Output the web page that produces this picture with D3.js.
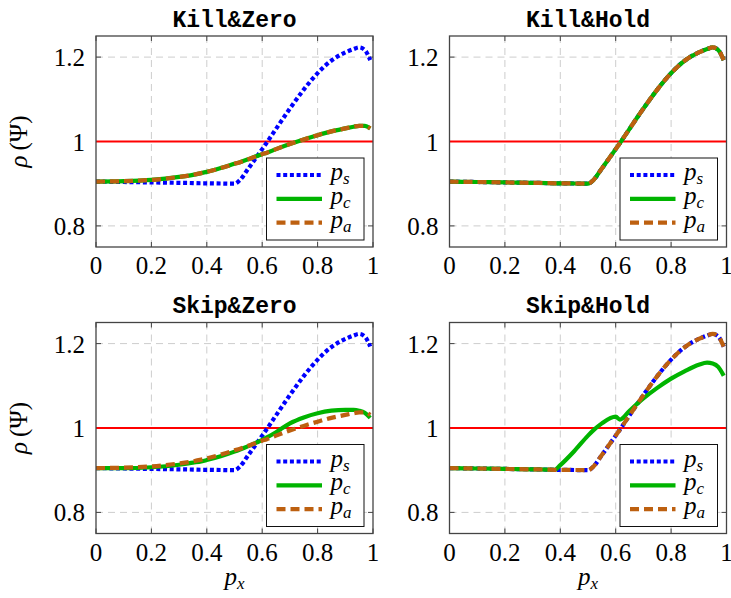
<!DOCTYPE html>
<html><head><meta charset="utf-8">
<script src="https://cdn.jsdelivr.net/npm/d3@7"></script>
<style>body{margin:0;background:#fff}</style>
</head><body><svg id="c" width="731" height="598"></svg>
<script>
// ---------- data ----------
const titles = ["Kill&Zero", "Kill&Hold", "Skip&Zero", "Skip&Hold"];
const xTicks = [0, 0.2, 0.4, 0.6, 0.8, 1];
const yTicks = [0.8, 1, 1.2];
const yTickLabels = ["0.8", "1", "1.2"];
const xTickLabels = ["0", "0.2", "0.4", "0.6", "0.8", "1"];
const seriesNames = ["s", "c", "a"];
const px = [0, 0.1, 0.2, 0.3, 0.35, 0.38, 0.4, 0.45, 0.5, 0.52, 0.55, 0.6, 0.615, 0.65, 0.7, 0.75, 0.8, 0.85, 0.9, 0.93, 0.95, 0.97, 0.99];

const psValues = [0.905, 0.904, 0.903, 0.902, 0.9015, 0.901, 0.901, 0.9005, 0.900, 0.909, 0.936, 0.982, 0.996, 1.030, 1.078, 1.123, 1.162, 1.192, 1.211, 1.219, 1.223, 1.217, 1.193];

const killZeroPc = [0.905, 0.906, 0.909, 0.916, 0.921, 0.925, 0.928, 0.937, 0.947, 0.951, 0.958, 0.970, 0.973, 0.982, 0.994, 1.005, 1.015, 1.024, 1.031, 1.035, 1.037, 1.037, 1.031];
const killZeroPa = [0.905, 0.906, 0.909, 0.916, 0.921, 0.925, 0.928, 0.937, 0.947, 0.951, 0.958, 0.970, 0.973, 0.982, 0.994, 1.005, 1.015, 1.024, 1.031, 1.035, 1.037, 1.037, 1.031];

const killHoldPc = [0.905, 0.904, 0.903, 0.902, 0.9015, 0.901, 0.901, 0.9005, 0.900, 0.909, 0.936, 0.982, 0.996, 1.030, 1.078, 1.123, 1.162, 1.192, 1.211, 1.219, 1.223, 1.217, 1.193];
const killHoldPa = [0.905, 0.904, 0.903, 0.902, 0.9015, 0.901, 0.901, 0.9005, 0.900, 0.909, 0.936, 0.982, 0.996, 1.030, 1.078, 1.123, 1.162, 1.192, 1.211, 1.219, 1.223, 1.217, 1.193];

const skipZeroPc = [0.905, 0.905, 0.907, 0.913, 0.918, 0.921, 0.924, 0.933, 0.944, 0.949, 0.957, 0.972, 0.977, 0.990, 1.011, 1.025, 1.035, 1.041, 1.043, 1.043, 1.041, 1.036, 1.024];
const skipZeroPa = [0.905, 0.906, 0.909, 0.916, 0.921, 0.925, 0.928, 0.937, 0.947, 0.951, 0.958, 0.970, 0.973, 0.982, 0.994, 1.005, 1.015, 1.024, 1.031, 1.035, 1.037, 1.037, 1.031];

const skipHoldPc = [0.905, 0.904, 0.903, 0.902, 0.9015, 0.901, 0.912, 0.945, 0.982, 0.995, 1.011, 1.027, 1.020, 1.041, 1.070, 1.095, 1.117, 1.135, 1.150, 1.155, 1.153, 1.145, 1.124];
const skipHoldPa = [0.905, 0.904, 0.903, 0.902, 0.9015, 0.901, 0.901, 0.9005, 0.900, 0.909, 0.936, 0.982, 0.996, 1.030, 1.078, 1.123, 1.162, 1.192, 1.211, 1.219, 1.223, 1.217, 1.193];

const panelSeries = [
  [psValues, killZeroPc, killZeroPa],
  [psValues, killHoldPc, killHoldPa],
  [psValues, skipZeroPc, skipZeroPa],
  [psValues, skipHoldPc, skipHoldPa]
];

// ---------- styles ----------
const colors = ["#0000ff", "#00b400", "#bd6010"];
const dashes = ["4 2.7", null, "9 5"];
const frameColor = "#444";
const SERIF = '"Liberation Serif"';
const MONO = '"Liberation Mono"';

const svg = d3.select("#c");
const W = 277, H = 211;
const panels = [
  {x: 96, y: 36, ylab: true, xlab: false},
  {x: 449.5, y: 36, ylab: false, xlab: false},
  {x: 96, y: 322.5, ylab: true, xlab: true},
  {x: 449.5, y: 322.5, ylab: false, xlab: true}
];

// text placed directly in the svg root; anchoring done by measuring
function addText(str, x, y, font, size, anchor, extra) {
  const t = svg.append("text").style("font-family", font).style("font-size", size + "px");
  if (extra) extra(t);
  t.text(str);
  const w = t.node().getComputedTextLength();
  const dx = anchor === "middle" ? w / 2 : anchor === "end" ? w : 0;
  t.attr("x", x - dx).attr("y", y);
  return t;
}
function addSubText(main, sub, x, y, anchor) {
  const t = svg.append("text").style("font-family", SERIF).style("font-size", "25px").style("font-style", "italic");
  t.append("tspan").text(main);
  t.append("tspan").style("font-size", "17px").attr("dy", 4).text(sub);
  const w = t.node().getComputedTextLength();
  const dx = anchor === "middle" ? w / 2 : 0;
  t.attr("x", x - dx).attr("y", y);
  return t;
}

panels.forEach((p, i) => {
  const x = d3.scaleLinear().domain([0, 1]).range([p.x, p.x + W]);
  const y = d3.scaleLinear().domain([0.75, 1.25]).range([p.y + H, p.y]);

  svg.append("clipPath").attr("id", "clip" + i).append("rect")
    .attr("x", p.x).attr("y", p.y).attr("width", W).attr("height", H);

  // grid
  svg.append("g").selectAll("line").data(xTicks.slice(1, -1)).join("line")
    .attr("x1", d => x(d)).attr("x2", d => x(d)).attr("y1", p.y).attr("y2", p.y + H)
    .attr("stroke", "#cdcdcd").attr("stroke-width", 1).attr("stroke-dasharray", "7 5");
  svg.append("g").selectAll("line").data(yTicks).join("line")
    .attr("y1", d => y(d)).attr("y2", d => y(d)).attr("x1", p.x).attr("x2", p.x + W)
    .attr("stroke", "#cdcdcd").attr("stroke-width", 1).attr("stroke-dasharray", "7 5");

  // tick marks (inside, both sides)
  const tk = svg.append("g").attr("stroke", frameColor).attr("stroke-width", 1);
  xTicks.forEach(t => {
    tk.append("line").attr("x1", x(t)).attr("x2", x(t)).attr("y1", p.y + H).attr("y2", p.y + H - 5);
    tk.append("line").attr("x1", x(t)).attr("x2", x(t)).attr("y1", p.y).attr("y2", p.y + 5);
  });
  yTicks.forEach(t => {
    tk.append("line").attr("y1", y(t)).attr("y2", y(t)).attr("x1", p.x).attr("x2", p.x + 5);
    tk.append("line").attr("y1", y(t)).attr("y2", y(t)).attr("x1", p.x + W).attr("x2", p.x + W - 5);
  });

  // reference line at 1
  svg.append("line").attr("x1", p.x).attr("x2", p.x + W).attr("y1", y(1)).attr("y2", y(1))
    .attr("stroke", "#ff0000").attr("stroke-width", 1.8);

  // series
  const line = d3.line().x(d => x(d[0])).y(d => y(d[1])).curve(d3.curveMonotoneX);
  const lg = svg.append("g").attr("clip-path", `url(#clip${i})`);
  panelSeries[i].forEach((vals, k) => {
    const pts = px.map((v, j) => [v, vals[j]]);
    lg.append("path").attr("d", line(pts)).attr("fill", "none")
      .attr("stroke", colors[k]).attr("stroke-width", 4.2)
      .attr("stroke-dasharray", dashes[k]).attr("stroke-linejoin", "round");
  });

  // frame
  svg.append("rect").attr("x", p.x).attr("y", p.y).attr("width", W).attr("height", H).attr("fill", "none")
    .attr("stroke", frameColor).attr("stroke-width", 1.3);

  // tick labels
  xTicks.forEach((d, j) => addText(xTickLabels[j], x(d), p.y + H + 27, SERIF, 25, "middle"));
  yTicks.forEach((d, j) => addText(yTickLabels[j], p.x - 11, y(d) + 9, SERIF, 25, "end"));

  // title
  addText(titles[i], p.x + W / 2, p.y - 9.5, MONO, 23, "middle", t => t.style("font-weight", "bold"));

  // legend
  const lw = 97.5, lh = 82;
  const lx = p.x + W - 9 - lw, ly = p.y + H - 7 - lh;
  svg.append("rect").attr("x", lx).attr("y", ly).attr("width", lw).attr("height", lh).attr("fill", "#fff")
    .attr("stroke", "#111").attr("stroke-width", 1);
  seriesNames.forEach((s, k) => {
    const yy = ly + 17 + k * 23.8;
    svg.append("line").attr("x1", lx + 10).attr("x2", lx + 55.5).attr("y1", yy).attr("y2", yy)
      .attr("stroke", colors[k]).attr("stroke-width", 4.2).attr("stroke-dasharray", dashes[k]);
    addSubText("p", s, lx + 64, yy + 5, "start");
  });

  // axis labels
  if (p.ylab) {
    const t = svg.append("text").style("font-family", SERIF).style("font-size", "25px");
    t.append("tspan").style("font-style", "italic").text("ρ");
    t.append("tspan").text("\u2009(Ψ)");
    const w = t.node().getComputedTextLength();
    t.attr("x", -w / 2).attr("y", 0)
      .attr("transform", `translate(${p.x - 69},${p.y + H / 2}) rotate(-90)`);
  }
  if (p.xlab) addSubText("p", "x", p.x + W / 2, p.y + H + 51, "middle");
});
</script>
</body></html>
